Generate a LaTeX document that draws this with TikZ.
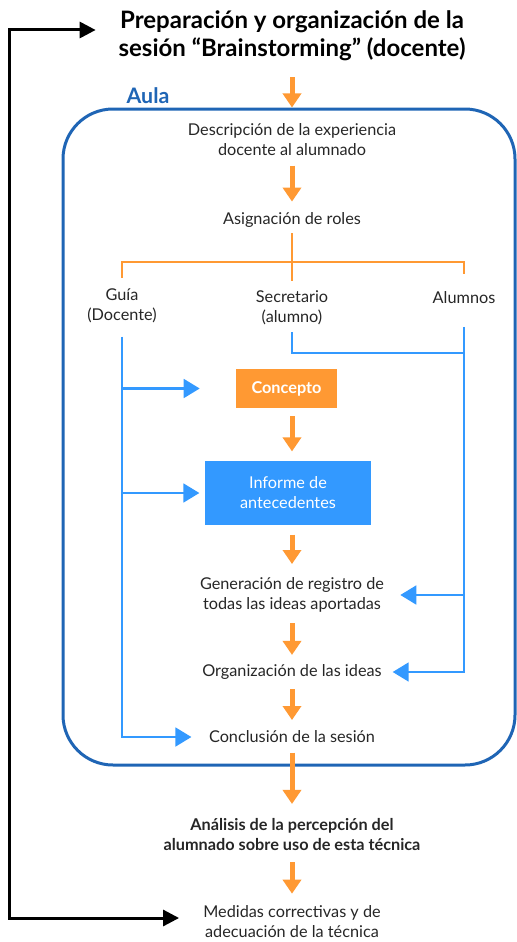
\documentclass[tikz,border=0pt]{standalone}
\usepackage{fontspec}
\setmainfont{Lato}
\usetikzlibrary{arrows.meta,positioning,calc}
\definecolor{naranja}{HTML}{FF9933}
\definecolor{azul}{HTML}{3399FF}
\definecolor{aulaborde}{HTML}{1F65B5}
\tikzstyle{paso}=[align=center,inner sep=0pt,font=\fontsize{12.2}{15}\selectfont,text=black!85]
\tikzstyle{caja}=[paso,minimum width=75.75pt,minimum height=29.25pt,fill=naranja,text=white,font=\fontsize{12.2}{15}\selectfont\bfseries]
\tikzstyle{flecha}=[naranja,line width=3.75pt,-{Triangle[width=13.5pt,length=10.5pt]}]
\tikzstyle{rama}=[naranja,line width=1.5pt]
\tikzstyle{conector}=[azul,line width=2pt,-{Triangle[width=14pt,length=12pt]}]
\tikzstyle{retorno}=[black,line width=2.25pt,{Triangle[width=12pt,length=12pt]}-{Triangle[width=12pt,length=12pt]}]

\begin{document}
\begin{tikzpicture}[x=0.75pt,y=-0.75pt]
\useasboundingbox (0,0) rectangle (517,942);
\node [draw=aulaborde,line width=2.25pt,rounded corners=37.5pt,minimum width=339pt,minimum height=492pt] (marco) at (289,437) {};
\node [font=\fontsize{18}{21}\selectfont\bfseries,align=center,inner sep=0pt] (titulo) at (292,36) {Preparación y organización de la\\sesión “Brainstorming” (docente)};
\node [font=\fontsize{16}{17}\selectfont\bfseries,text=aulaborde,inner sep=0pt] (aula) at (148,96) {Aula};
\node [paso] (desc) at (292,140) {Descripción de la experiencia\\docente al alumnado};
\node [paso] (roles) at (292,220) {Asignación de roles};
\node [paso] (guia) at (122,306) {Guía\\(Docente)};
\node [paso] (secre) at (292,308) {Secretario\\(alumno)};
\node [paso] (alumnos) at (464,298) {Alumnos};
\node [caja] (concepto) at (286.5,388.5) {Concepto};
\node [caja,fill=azul,font=\fontsize{12.2}{15}\selectfont,minimum width=124.5pt,minimum height=48pt] (informe) at (288,493) {Informe de\\antecedentes};
\node [paso] (gen) at (292,595) {Generación de registro de\\todas las ideas aportadas};
\node [paso] (org) at (292,672) {Organización de las ideas};
\node [paso] (concl) at (292,737) {Conclusión de la sesión};
\node [paso,font=\fontsize{12.2}{15}\selectfont\bfseries] (analisis) at (292,835) {Análisis de la percepción del\\alumnado sobre uso de esta técnica};
\node [paso] (medidas) at (292,922) {Medidas correctivas y de\\adecuación de la técnica};
% flujo principal
\draw[flecha,shorten <=12pt] (titulo.south) -- (titulo.south |- marco.north);
\draw[flecha,shorten <=7pt,shorten >=8pt] (desc) -- (roles);
\draw[flecha,shorten <=6pt,shorten >=7pt] (concepto.south -| roles) -- (informe.north -| roles);
\draw[flecha,shorten <=7pt,shorten >=10pt] (informe.south -| roles) -- (gen);
\draw[flecha,shorten <=8pt,shorten >=7pt] (gen) -- (org);
\draw[flecha,shorten <=7pt,shorten >=8pt] (org) -- (concl);
\draw[flecha,shorten <=7pt,shorten >=11pt] (concl) -- (analisis);
\draw[flecha,shorten <=8pt,shorten >=9pt] (analisis) -- (medidas);
% roles
\coordinate (reparto) at (292,262);
\draw[rama,shorten <=4pt,shorten >=7pt] (roles) -- (secre);
\draw[rama,shorten <=8pt,shorten >=13pt] (guia.north) |- (reparto) -| (alumnos.north);
% quien participa en cada paso
\coordinate (codo) at (463,353);
\draw[conector,shorten <=10pt,shorten >=13pt] (guia.south) |- (concl.west);
\draw[conector,shorten >=27pt] (guia.south |- concepto) -- (concepto.west);
\draw[conector,shorten >=4pt] (guia.south |- informe) -- (informe.west);
\draw[azul,line width=2pt,shorten <=5pt] (secre.south) |- (codo);
\draw[conector,shorten <=17pt,shorten >=8pt] (alumnos.south) |- (org.east);
\draw[conector,shorten >=12pt] (alumnos.south |- gen) -- (gen.east);
% vuelta al inicio
\coordinate (esq1) at (9,30);
\coordinate (esq2) at (9,918);
\draw[retorno,shorten <=17pt,shorten >=18pt] (esq1 -| titulo.west) -- (esq1) -- (esq2) -- (esq2 -| medidas.west);
\end{tikzpicture}
\end{document}
